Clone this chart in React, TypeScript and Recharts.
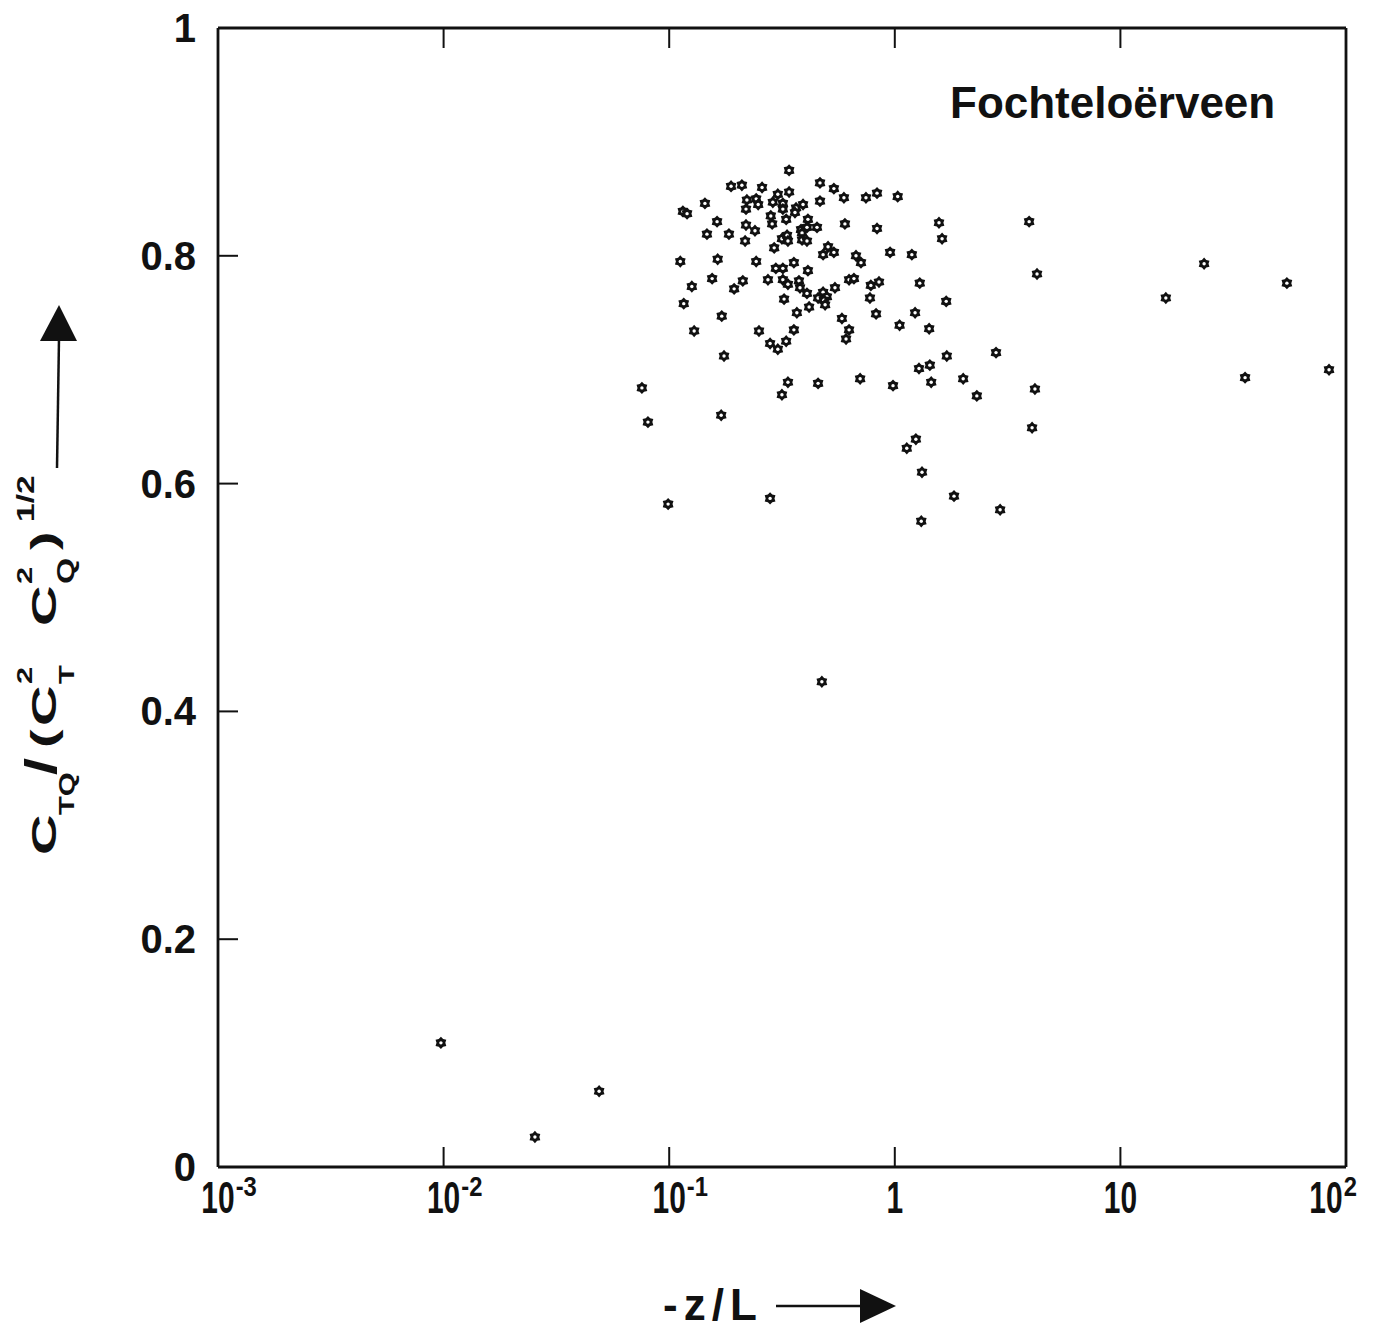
// Fochteloërveen: C_TQ / (C_T^2 C_Q^2)^1/2 plotted against -z/L (log x axis)
import { ScatterChart, Scatter, XAxis, YAxis } from 'recharts'

const negZL = [
  0.34, 0.188, 0.21, 0.258, 0.466, 0.537, 0.595, 0.745, 0.834, 1.03,
  0.144, 0.115, 0.12, 0.221, 0.243, 0.248, 0.303, 0.34, 0.288, 0.319,
  0.365, 0.392, 0.361, 0.319, 0.466, 0.219, 0.282, 0.33, 0.286, 0.412,
  0.163, 0.219, 0.384, 0.408, 0.388, 0.452, 0.601, 0.834, 1.57, 0.147,
  0.184, 0.24, 0.217, 0.316, 0.333, 0.336, 0.388, 0.408, 1.62, 0.292,
  0.506, 0.481, 0.537, 0.673, 0.708, 0.953, 1.19, 0.112, 0.164, 0.243,
  0.357, 0.297, 0.319, 0.412, 0.155, 0.212, 0.194, 0.126, 0.274, 0.319,
  0.336, 0.376, 0.38, 0.408, 0.627, 0.659, 0.783, 0.851, 1.29, 0.543,
  0.481, 0.457, 0.5, 0.485, 0.491, 0.417, 0.323, 0.368, 0.776, 1.69,
  0.116, 0.171, 0.583, 0.826, 1.23, 1.05, 1.42, 0.129, 0.25, 0.357,
  0.627, 0.608, 0.28, 0.303, 0.33, 0.175, 2.81, 1.7, 1.28, 1.43,
  0.0757, 0.336, 0.316, 0.457, 0.702, 0.982, 1.45, 2.01, 2.31, 3.94,
  4.27, 4.18, 4.06, 1.24, 1.13, 1.32, 1.83, 2.93, 1.31, 0.0989,
  0.28, 0.17, 0.0805, 15.9, 23.5, 54.7, 35.7, 84.1, 0.475, 0.00973,
  0.0489, 0.0254,
]

// correlation coefficient C_TQ / (C_T^2 C_Q^2)^1/2, same order as negZL
const ctqRatio = [
  0.875, 0.861, 0.862, 0.86, 0.864, 0.859, 0.851, 0.851, 0.855, 0.852,
  0.846, 0.839, 0.837, 0.849, 0.85, 0.845, 0.854, 0.856, 0.847, 0.846,
  0.842, 0.845, 0.838, 0.841, 0.848, 0.841, 0.835, 0.832, 0.828, 0.832,
  0.83, 0.827, 0.823, 0.825, 0.82, 0.825, 0.828, 0.824, 0.829, 0.819,
  0.819, 0.822, 0.813, 0.815, 0.818, 0.813, 0.814, 0.813, 0.815, 0.807,
  0.808, 0.801, 0.803, 0.8, 0.794, 0.803, 0.801, 0.795, 0.797, 0.795,
  0.794, 0.789, 0.789, 0.787, 0.78, 0.778, 0.771, 0.773, 0.779, 0.779,
  0.775, 0.778, 0.772, 0.767, 0.779, 0.78, 0.774, 0.777, 0.776, 0.772,
  0.768, 0.763, 0.764, 0.761, 0.757, 0.755, 0.762, 0.75, 0.763, 0.76,
  0.758, 0.747, 0.745, 0.749, 0.75, 0.739, 0.736, 0.734, 0.734, 0.735,
  0.735, 0.727, 0.723, 0.718, 0.725, 0.712, 0.715, 0.712, 0.701, 0.704,
  0.684, 0.689, 0.678, 0.688, 0.692, 0.686, 0.689, 0.692, 0.677, 0.83,
  0.784, 0.683, 0.649, 0.639, 0.631, 0.61, 0.589, 0.577, 0.567, 0.582,
  0.587, 0.66, 0.654, 0.763, 0.793, 0.776, 0.693, 0.7, 0.426, 0.109,
  0.0665, 0.0263,
]

const xTicks = [0.001, 0.01, 0.1, 1, 10, 100]
const xTickBase = ['10', '10', '10', '1', '10', '10']
const xTickExp = ['-3', '-2', '-1', '', '', '2']
const yTicks = [0, 0.2, 0.4, 0.6, 0.8, 1]
const yTickLabels = ['0', '0.2', '0.4', '0.6', '0.8', '1']

const data = negZL.map((z, i) => ({ z, r: ctqRatio[i] }))

const FONT = "'Liberation Sans', Arial, Helvetica, sans-serif"
const TICK_LEN = 20
const INK = '#111'

// six-pointed plotter symbol with a small open centre
const Hexagram = (props: any) => {
  const { cx, cy } = props
  if (cx == null || cy == null) return null
  const pts: string[] = []
  for (let i = 0; i < 12; i++) {
    const a = (Math.PI / 6) * i - Math.PI / 2
    const rad = i % 2 === 0 ? 6.2 : 4.4
    pts.push(`${(cx + rad * Math.cos(a)).toFixed(2)},${(cy + rad * Math.sin(a)).toFixed(2)}`)
  }
  return (
    <g>
      <polygon points={pts.join(' ')} fill={INK} />
      <circle cx={cx} cy={cy} r={1.7} fill="#fff" />
    </g>
  )
}

// condensed "10" with a superscript exponent, tick drawn inwards
const BottomTick = (props: any) => {
  const { x, y, payload } = props
  const i = xTicks.indexOf(payload.value)
  const base = xTickBase[i] ?? ''
  const exp = xTickExp[i] ?? ''
  const sx = 0.68
  const half = (base.length * 0.556 * 44 * sx) / 2
  // the last label sits a little inside the frame, as in the original
  const cx = i === xTicks.length - 1 ? x - 20 : x
  return (
    <g>
      <line x1={x} y1={y} x2={x} y2={y - TICK_LEN} stroke={INK} strokeWidth={2} />
      <g transform={`translate(${cx},${y})`}>
        <text transform={`scale(${sx},1)`} x={0} y={46} textAnchor="middle" fontFamily={FONT} fontWeight="bold" fontSize={44} fill={INK}>
          {base}
        </text>
        {exp && (
          <text transform="scale(0.85,1)" x={(half + 1) / 0.85} y={29} textAnchor="start" fontFamily={FONT} fontWeight="bold" fontSize={28} fill={INK}>
            {exp}
          </text>
        )}
      </g>
    </g>
  )
}

const TopTick = (props: any) => {
  const { x, y } = props
  return <line x1={x} y1={y} x2={x} y2={y + TICK_LEN} stroke={INK} strokeWidth={2} />
}

const LeftTick = (props: any) => {
  const { x, y, payload } = props
  const i = yTicks.indexOf(payload.value)
  return (
    <g>
      <line x1={x} y1={y} x2={x + TICK_LEN} y2={y} stroke={INK} strokeWidth={2} />
      <text x={x - 22} y={y + 14} textAnchor="end" fontFamily={FONT} fontWeight="bold" fontSize={40} fill={INK}>
        {yTickLabels[i]}
      </text>
    </g>
  )
}

const RightTick = (props: any) => {
  const { x, y } = props
  return <line x1={x} y1={y} x2={x - TICK_LEN} y2={y} stroke={INK} strokeWidth={2} />
}

// one piece of the rotated y title; `at` is where it starts on the page (reading upwards)
const Seg = ({ at, ly = 0, size, sx, children }: any) => (
  <text
    transform={`translate(${-at},${ly}) scale(${sx},1)`}
    x={0}
    y={0}
    fontFamily={FONT}
    fontWeight="bold"
    fontSize={size}
    fill={INK}
  >
    {children}
  </text>
)

export default function App() {
  const axisLine = { stroke: INK, strokeWidth: 2.8 }
  const SUB = 18
  const SUP = -24
  return (
    <div style={{ position: 'relative', width: 1398, height: 1330, background: '#fff' }}>
      <style>{'body{margin:0;background:#fff}'}</style>
      <ScatterChart width={1398} height={1330} margin={{ top: 8, right: 32, bottom: 133, left: 158 }}>
        <XAxis
          xAxisId="bottom"
          dataKey="z"
          type="number"
          scale="log"
          domain={[0.001, 100]}
          ticks={xTicks}
          allowDataOverflow
          orientation="bottom"
          height={30}
          axisLine={axisLine}
          tickLine={false}
          tickSize={0}
          tickMargin={0}
          tick={<BottomTick />}
          interval={0}
        />
        <XAxis
          xAxisId="top"
          dataKey="z"
          type="number"
          scale="log"
          domain={[0.001, 100]}
          ticks={xTicks}
          allowDataOverflow
          orientation="top"
          height={20}
          axisLine={axisLine}
          tickLine={false}
          tickSize={0}
          tickMargin={0}
          tick={<TopTick />}
          interval={0}
        />
        <YAxis
          yAxisId="left"
          dataKey="r"
          type="number"
          domain={[0, 1]}
          ticks={yTicks}
          orientation="left"
          width={60}
          axisLine={axisLine}
          tickLine={false}
          tickSize={0}
          tickMargin={0}
          tick={<LeftTick />}
          interval={0}
        />
        <YAxis
          yAxisId="right"
          dataKey="r"
          type="number"
          domain={[0, 1]}
          ticks={yTicks}
          orientation="right"
          width={20}
          axisLine={axisLine}
          tickLine={false}
          tickSize={0}
          tickMargin={0}
          tick={<RightTick />}
          interval={0}
        />
        <Scatter
          data={data}
          xAxisId="bottom"
          yAxisId="left"
          shape={<Hexagram />}
          isAnimationActive={false}
        />
      </ScatterChart>

      <svg
        width={1398}
        height={1330}
        style={{ position: 'absolute', left: 0, top: 0, pointerEvents: 'none' }}
      >
        <text x={950} y={118} fontFamily={FONT} fontWeight="bold" fontSize={44} fill={INK}>
          Fochteloërveen
        </text>

        {/* x-axis title with arrow */}
        <text x={663} y={1320} fontFamily={FONT} fontWeight="bold" fontSize={44} letterSpacing={6} fill={INK}>
          -z/L
        </text>
        <line x1={776} y1={1306} x2={864} y2={1306} stroke={INK} strokeWidth={2.5} />
        <polygon points="860,1289 860,1323 896,1306" fill={INK} />

        {/* y-axis title, read bottom to top, with arrow */}
        <g transform="translate(56,0) rotate(-90)">
          <Seg at={855} size={35} sx={1.6}>C</Seg>
          <Seg at={815} ly={SUB} size={22} sx={1.4}>TQ</Seg>
          <Seg at={775} size={44} sx={1.4}>/</Seg>
          <Seg at={748} size={35} sx={1.6}>(</Seg>
          <Seg at={726} size={35} sx={1.6}>C</Seg>
          <Seg at={684} ly={SUB} size={22} sx={1.4}>T</Seg>
          <Seg at={684} ly={SUP} size={22} sx={1.4}>2</Seg>
          <Seg at={626} size={35} sx={1.6}>C</Seg>
          <Seg at={584} ly={SUB} size={24} sx={1.4}>Q</Seg>
          <Seg at={584} ly={SUP} size={22} sx={1.4}>2</Seg>
          <Seg at={550} size={35} sx={1.6}>)</Seg>
          <Seg at={522} ly={-22} size={24} sx={1.4}>1/2</Seg>
        </g>
        <line x1={57} y1={468} x2={59} y2={338} stroke={INK} strokeWidth={2.5} />
        <polygon points="40,341 77,341 59,305" fill={INK} />
      </svg>
    </div>
  )
}
